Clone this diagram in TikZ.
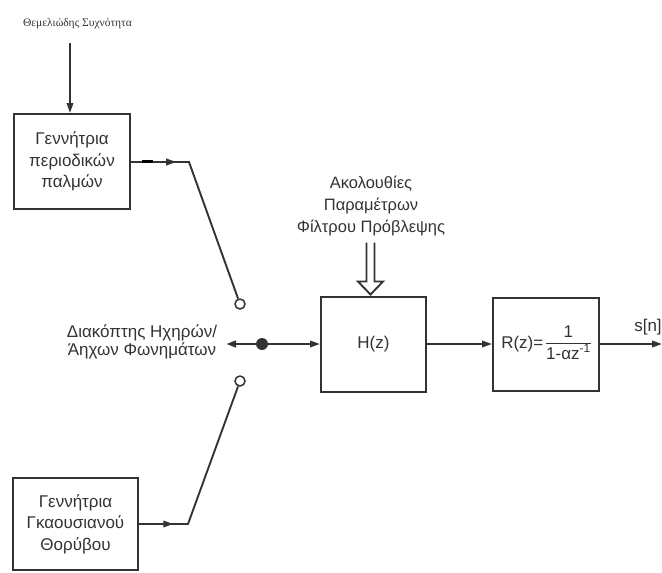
\documentclass[tikz,border=0pt]{standalone}
\usepackage{fontspec}
\setmainfont{Liberation Sans}
\newfontfamily\serifgr{Liberation Serif}
\usetikzlibrary{arrows.meta,calc}
\definecolor{ink}{HTML}{333333}
\begin{document}
\begin{tikzpicture}[x=1pt,y=-1pt,
  blk/.style={draw=ink, line width=2pt, inner sep=0pt, align=center, text=ink,
    font=\fontsize{17}{21.5}\selectfont},
  lbl/.style={align=center, text=ink, inner sep=0pt},
  wire/.style={draw=ink, line width=1.9pt},
  conn/.style={wire, -{Triangle[length=10pt,width=6.5pt]}},
  port/.style={circle, draw=ink, line width=1.5pt, fill=white, minimum size=10pt, inner sep=0pt},
  pivot/.style={circle, fill=ink, minimum size=12pt, inner sep=0pt}]
\useasboundingbox (0,0) rectangle (662,573);

% source blocks
\node[blk, minimum width=116pt, minimum height=95pt] (pulse) at (72,161.5)
  {Γεννήτρια\\περιοδικών\\παλμών};
\node[blk, minimum width=125pt, minimum height=92pt] (noise) at (75.5,524)
  {Γεννήτρια\\Γκαουσιανού\\Θορύβου};

% filter blocks
\node[blk, minimum width=105pt, minimum height=95pt] (H) at (373.5,344) {H(z)};
\node[blk, minimum width=106pt, minimum height=93pt] (R) at (546,344)
  {R(z)=\,{\setlength{\arrayrulewidth}{1.3pt}\begin{tabular}{@{}c@{}}1\\[-1pt]\hline 1-αz\textsuperscript{-1}\end{tabular}}};

% labels
\node[lbl, font=\serifgr\fontsize{11.5}{13}\selectfont] (f0) at (77.5,24) {Θεμελιώδης Συχνότητα};
\node[lbl, font=\fontsize{16.5}{22}\selectfont] (params) at (371,206)
  {Ακολουθίες\\Παραμέτρων\\Φίλτρου Πρόβλεψης};
\node[lbl, font=\fontsize{17}{18}\selectfont] (swlbl) at (142,342)
  {Διακόπτης Ηχηρών/\\Άηχων Φωνημάτων};
\node[lbl, font=\fontsize{17}{20}\selectfont] (sn) at (648,327) {s[n]};

% switch
\coordinate (fin) at (70,43);
\coordinate (kv) at (189,162);
\coordinate (ku) at (188,524);
\node[port] (cv) at (240,304) {};
\node[port] (cu) at (240,381) {};
\node[pivot] (sw) at (262,344) {};
\coordinate (swout) at (226,344);
\coordinate (sout) at (662,344);

% fundamental frequency into the pulse generator
\draw[conn] (fin) -- (fin |- pulse.north);

% voiced branch
\path (pulse.east |- kv) -- (kv) coordinate[pos=0.78] (tv);
\draw[wire] (pulse.east |- kv) -- (kv) -- (cv);
\draw[conn] (pulse.east |- kv) -- (tv);
\draw[black, line width=2.8pt] ($(pulse.east |- kv)+(11,-0.5)$) -- ++(11,0);

% unvoiced branch
\path (noise.east |- ku) -- (ku) coordinate[pos=0.7] (tu);
\draw[wire] (noise.east |- ku) -- (ku) -- (cu);
\draw[conn] (noise.east |- ku) -- (tu);

% switch output
\draw[conn, line width=2.6pt] (sw) -- (swout);
\draw[conn] (sw) -- (H.west);

% filter chain
\draw[conn] (H.east) -- (R.west);
\draw[conn] (R.east) -- (sout);

% parameter sequences (hollow double arrow)
\coordinate (pin) at ($(H.north)+(-3,0)$);
\draw[wire, line join=miter]
  ($(pin)+(-4,-53)$) -- ($(pin)+(-4,-14)$) -- ($(pin)+(-12.5,-14)$) -- ($(pin)+(0,-1)$)
  -- ($(pin)+(12.5,-14)$) -- ($(pin)+(4,-14)$) -- ($(pin)+(4,-53)$);
\end{tikzpicture}
\end{document}
